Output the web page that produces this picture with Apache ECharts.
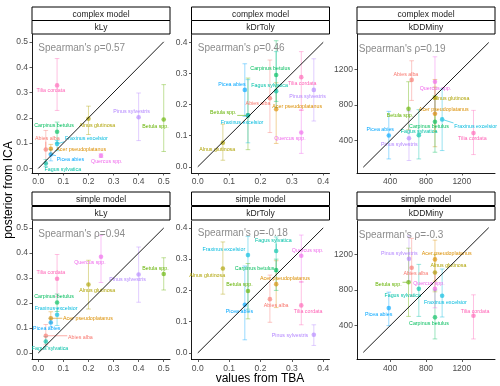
<!DOCTYPE html>
<html><head><meta charset="utf-8">
<script src="https://cdn.jsdelivr.net/npm/echarts@6/dist/echarts.min.js"></script>
<style>html,body{margin:0;padding:0;background:#fff}#c{width:500px;height:386px}</style>
</head><body><div id="c"></div>
<script>
// ---------- data ----------
const species = ['Abies alba','Acer pseudoplatanus','Alnus glutinosa','Betula spp.','Carpinus betulus','Fagus sylvatica','Fraxinus excelsior','Picea abies','Pinus sylvestris','Quercus spp.','Tilia cordata'];
const speciesColors = ['#F8766D','#DB8E00','#AEA200','#64B200','#00BD5C','#00C1A7','#00BADE','#00A6FF','#B385FF','#EF67EB','#FF63B6'];
const models = ['complex model','simple model'];
const parameters = ['kLy','kDrToly','kDDMiny'];
const spearmanRho = ['0.57','0.46','0.19','0.94','-0.18','-0.3'];

const ticksKLy = [0,0.1,0.2,0.3,0.4,0.5];
const ticksKDrToly = [0,0.1,0.2,0.3,0.4];
const ticksKDDMiny = [400,800,1200];
const diagKLy = [0,0.5];
const diagKDrToly = [0,0.4];
const diagKDDMiny = [100,1500];

// values from TBA (x)
const tbaKLy =     [0.03,0.05,0.2,0.5,0.075,0.03,0.075,0.05,0.4,0.25,0.075];
const tbaKDrToly = [0.23,0.25,0.08,0.16,0.25,0.25,0.16,0.15,0.37,0.33,0.33];
const tbaKDDMiny = [640,900,900,605,900,720,980,385,610,900,1330];

// posterior from ICA (y): complex model
const cxKLyMean = [0.075,0.078,0.196,0.193,0.145,0.02,0.097,0.055,0.202,0.05,0.328];
const cxKLyLow  = [0.02,0.06,0.134,0.067,0.1,0.007,0.07,0.03,0.11,0.044,0.229];
const cxKLyHigh = [0.15,0.095,0.246,0.331,0.183,0.035,0.11,0.075,0.298,0.058,0.434];
const cxKDrMean = [0.22,0.185,0.077,0.165,0.295,0.243,0.165,0.247,0.247,0.11,0.288];
const cxKDrLow  = [0.11,0.075,0.021,0.055,0.21,0.19,0.077,0.162,0.147,0.043,0.181];
const cxKDrHigh = [0.343,0.27,0.137,0.285,0.405,0.37,0.28,0.331,0.347,0.183,0.37];
const cxKDDMean = [1080,700,880,755,610,460,637,456,425,1060,483];
const cxKDDLow  = [850,330,500,520,268,193,287,193,175,700,242];
const cxKDDHigh = [1295,1085,1000,1060,900,746,980,727,730,1340,738];

// posterior from ICA (y): simple model
const smKLyMean = [0.069,0.139,0.274,0.316,0.202,0.046,0.153,0.122,0.314,0.385,0.297];
const smKLyLow  = [0.033,0.12,0.176,0.252,0.166,0.026,0.11,0.105,0.203,0.282,0.225];
const smKLyHigh = [0.114,0.165,0.371,0.381,0.236,0.066,0.18,0.139,0.424,0.47,0.394];
const smKDrMean = [0.172,0.22,0.27,0.198,0.265,0.326,0.313,0.154,0.058,0.311,0.152];
const smKDrLow  = [0.098,0.145,0.188,0.109,0.2,0.26,0.14,0.042,0.024,0.226,0.09];
const smKDrHigh = [0.249,0.295,0.355,0.286,0.3,0.371,0.373,0.278,0.09,0.377,0.228];
const smKDDMean = [1050,1144,997,887,493,813,735,597,1150,813,512];
const smKDDLow  = [730,900,780,504,251,504,497,400,900,600,251];
const smKDDHigh = [1380,1360,1200,1270,800,1088,1036,776,1410,1000,746];

// repelled label anchors (data units)
const cxKLyLabX = [0.036,0.171,0.235,0.467,0.063,0.098,0.192,0.128,0.372,0.273,0.05];
const cxKLyLabY = [0.119,0.075,0.17,0.167,0.17,-0.003,0.119,0.037,0.225,0.027,0.308];
const smKLyLabX = [0.168,0.198,0.235,0.467,0.063,0.047,0.071,0.034,0.356,0.206,0.05];
const smKLyLabY = [0.062,0.138,0.248,0.339,0.226,0.018,0.178,0.098,0.292,0.361,0.321];
const cxKDrLabX = [0.192,0.317,0.062,0.081,0.231,0.229,0.141,0.109,0.35,0.294,0.333];
const cxKDrLabY = [0.203,0.194,0.056,0.174,0.315,0.26,0.141,0.265,0.227,0.09,0.268];
const smKDrLabX = [0.25,0.278,0.03,0.133,0.181,0.241,0.083,0.133,0.294,0.35,0.352];
const smKDrLabY = [0.151,0.237,0.249,0.218,0.271,0.361,0.331,0.133,0.057,0.327,0.131];
const cxKDDLabX = [576,998,1083,510,833,723,1354,290,502,906,1317];
const cxKDDLabY = [1144,749,870,678,558,501,558,524,355,983,419];
const smKDDLabX = [686,1031,1050,381,833,540,1017,271,502,833,1347];
const smKDDLabY = [984,1211,1070,858,419,735,660,523,1211,869,560];

// Spearman annotation anchors
const rhoX = [0,0,50,0,0,50];
const rhoY = [0.474,0.381,1425,0.474,0.382,1416];

// ---------- panel assembly ----------
const panels = [
  {x:tbaKLy, m:cxKLyMean, lo:cxKLyLow, hi:cxKLyHigh, lx:cxKLyLabX, ly:cxKLyLabY, ticks:ticksKLy, diag:diagKLy, xr:[-0.025,0.525], yr:[-0.018,0.529], dec:1},
  {x:tbaKDrToly, m:cxKDrMean, lo:cxKDrLow, hi:cxKDrHigh, lx:cxKDrLabX, ly:cxKDrLabY, ticks:ticksKDrToly, diag:diagKDrToly, xr:[-0.02,0.42], yr:[-0.02,0.425], dec:1},
  {x:tbaKDDMiny, m:cxKDDMean, lo:cxKDDLow, hi:cxKDDHigh, lx:cxKDDLabX, ly:cxKDDLabY, ticks:ticksKDDMiny, diag:diagKDDMiny, xr:[30,1570], yr:[35,1590], dec:0},
  {x:tbaKLy, m:smKLyMean, lo:smKLyLow, hi:smKLyHigh, lx:smKLyLabX, ly:smKLyLabY, ticks:ticksKLy, diag:diagKLy, xr:[-0.025,0.525], yr:[-0.026,0.528], dec:1},
  {x:tbaKDrToly, m:smKDrMean, lo:smKDrLow, hi:smKDrHigh, lx:smKDrLabX, ly:smKDrLabY, ticks:ticksKDrToly, diag:diagKDrToly, xr:[-0.02,0.42], yr:[-0.021,0.422], dec:1},
  {x:tbaKDDMiny, m:smKDDMean, lo:smKDDLow, hi:smKDDHigh, lx:smKDDLabX, ly:smKDDLabY, ticks:ticksKDDMiny, diag:diagKDDMiny, xr:[30,1570], yr:[20,1575], dec:0}
];

const FONT = '"Liberation Sans", Arial, sans-serif';
const colLeft = [32, 191.5, 357];
const PW = 138;
const rowTop = [34.5, 221];
const PH = 138.5;
const stripTop = [[7,20.5],[192,206.5]];
const STRIP_H = 13.5;
const LABEL_FS = 5.3;

const mctx = document.createElement('canvas').getContext('2d');
mctx.font = LABEL_FS + 'px "Liberation Sans"';

const grids = [], xAxes = [], yAxes = [], series = [], graphics = [];

panels.forEach((p, i) => {
  const row = Math.floor(i / 3), col = i % 3;
  grids.push({left: colLeft[col], top: rowTop[row], width: PW, height: PH, outerBoundsMode: 'none', containLabel: false});
  const fmt = v => p.dec ? Number(v).toFixed(1) : String(v);
  const axisCommon = {
    gridIndex: i, type: 'value', splitLine: {show: false},
    axisLine: {show: true, onZero: false, lineStyle: {color: '#000', width: 0.9}},
    axisTick: {show: true, length: 2.5, customValues: p.ticks, lineStyle: {color: '#333', width: 0.8}},
    axisLabel: {customValues: p.ticks, formatter: fmt, fontSize: 8.5, color: '#4D4D4D', fontFamily: FONT}
  };
  xAxes.push(Object.assign({}, axisCommon, {min: p.xr[0], max: p.xr[1], axisLabel: Object.assign({}, axisCommon.axisLabel, {margin: 4.5})}));
  yAxes.push(Object.assign({}, axisCommon, {min: p.yr[0], max: p.yr[1], axisLabel: Object.assign({}, axisCommon.axisLabel, {margin: 4})}));

  const rows = species.map((s, k) => [p.x[k], p.m[k], p.lo[k], p.hi[k], k, p.lx[k], p.ly[k]]);

  // error bars
  series.push({
    type: 'custom', xAxisIndex: i, yAxisIndex: i, silent: true, clip: false,
    data: rows, encode: {x: 0, y: 1},
    renderItem: (params, api) => {
      const x = api.value(0), lo = api.value(2), hi = api.value(3), k = api.value(4);
      const a = api.coord([x, lo]), b = api.coord([x, hi]);
      const c = speciesColors[k], cw = 2.3;
      const st = {stroke: c, lineWidth: 0.8, opacity: 0.5};
      return {type: 'group', children: [
        {type: 'line', shape: {x1: a[0], y1: a[1], x2: b[0], y2: b[1]}, style: st},
        {type: 'line', shape: {x1: a[0]-cw, y1: a[1], x2: a[0]+cw, y2: a[1]}, style: st},
        {type: 'line', shape: {x1: b[0]-cw, y1: b[1], x2: b[0]+cw, y2: b[1]}, style: st}
      ]};
    }
  });
  // points
  series.push({
    type: 'scatter', xAxisIndex: i, yAxisIndex: i, silent: true, symbolSize: 4.6,
    data: rows.map(r => ({value: [r[0], r[1]], itemStyle: {color: speciesColors[r[4]], opacity: 0.65}}))
  });
  // 1:1 line
  series.push({
    type: 'line', xAxisIndex: i, yAxisIndex: i, silent: true, symbol: 'none',
    data: [[p.diag[0], p.diag[0]], [p.diag[1], p.diag[1]]],
    lineStyle: {color: '#000', width: 0.9}
  });
  // species labels (+ repel segments)
  series.push({
    type: 'custom', xAxisIndex: i, yAxisIndex: i, silent: true, clip: false,
    data: rows, encode: {x: 5, y: 6},
    renderItem: (params, api) => {
      const k = api.value(4);
      const pt = api.coord([api.value(0), api.value(1)]);
      const lc = api.coord([api.value(5), api.value(6)]);
      const name = species[k], c = speciesColors[k];
      const w = mctx.measureText(name).width, h = LABEL_FS, pad = 0.8;
      const x0 = lc[0]-w/2-pad, x1 = lc[0]+w/2+pad, y0 = lc[1]-h/2-pad, y1 = lc[1]+h/2+pad;
      const qx = Math.max(x0, Math.min(pt[0], x1)), qy = Math.max(y0, Math.min(pt[1], y1));
      const d = Math.hypot(pt[0]-qx, pt[1]-qy);
      const ch = [];
      if (d > 5) {
        const ex = pt[0] + (qx-pt[0]) * (1.8/d), ey = pt[1] + (qy-pt[1]) * (1.8/d);
        ch.push({type: 'line', shape: {x1: qx, y1: qy, x2: ex, y2: ey}, style: {stroke: c, lineWidth: 0.6}});
      }
      ch.push({type: 'text', x: lc[0], y: lc[1], style: {text: name, fill: c, font: LABEL_FS + 'px ' + FONT, textAlign: 'center', textVerticalAlign: 'middle'}});
      return {type: 'group', children: ch};
    }
  });
  // Spearman annotation
  series.push({
    type: 'custom', xAxisIndex: i, yAxisIndex: i, silent: true, clip: false,
    data: [[rhoX[i], rhoY[i]]],
    renderItem: (params, api) => {
      const q = api.coord([api.value(0), api.value(1)]);
      return {type: 'text', x: q[0], y: q[1], style: {text: "Spearman's \u03C1=" + spearmanRho[i], fill: '#8C8C8C', font: '10px ' + FONT, textAlign: 'left', textVerticalAlign: 'middle'}};
    }
  });

  // strips
  const labels = [models[row], parameters[col]];
  stripTop[row].forEach((t, j) => {
    graphics.push({type: 'rect', shape: {x: colLeft[col], y: t, width: PW, height: STRIP_H}, style: {fill: '#fff', stroke: '#000', lineWidth: 1}, silent: true});
    graphics.push({type: 'text', x: colLeft[col] + PW/2, y: t + STRIP_H/2 + 0.5, style: {text: labels[j], fill: '#1A1A1A', font: '8.5px ' + FONT, textAlign: 'center', textVerticalAlign: 'middle'}, silent: true});
  });
});

graphics.push({type: 'text', x: 260, y: 379, style: {text: 'values from TBA', fill: '#000', font: '12px ' + FONT, textAlign: 'center', textVerticalAlign: 'middle'}, silent: true});
graphics.push({type: 'text', x: 9, y: 190, rotation: Math.PI/2, style: {text: 'posterior from ICA', fill: '#000', font: '12px ' + FONT, textAlign: 'center', textVerticalAlign: 'middle'}, silent: true});

const chart = echarts.init(document.getElementById('c'), null, {renderer: 'canvas'});
chart.setOption({
  animation: false,
  backgroundColor: '#fff',
  grid: grids, xAxis: xAxes, yAxis: yAxes, series: series, graphic: graphics
});
</script></body></html>
